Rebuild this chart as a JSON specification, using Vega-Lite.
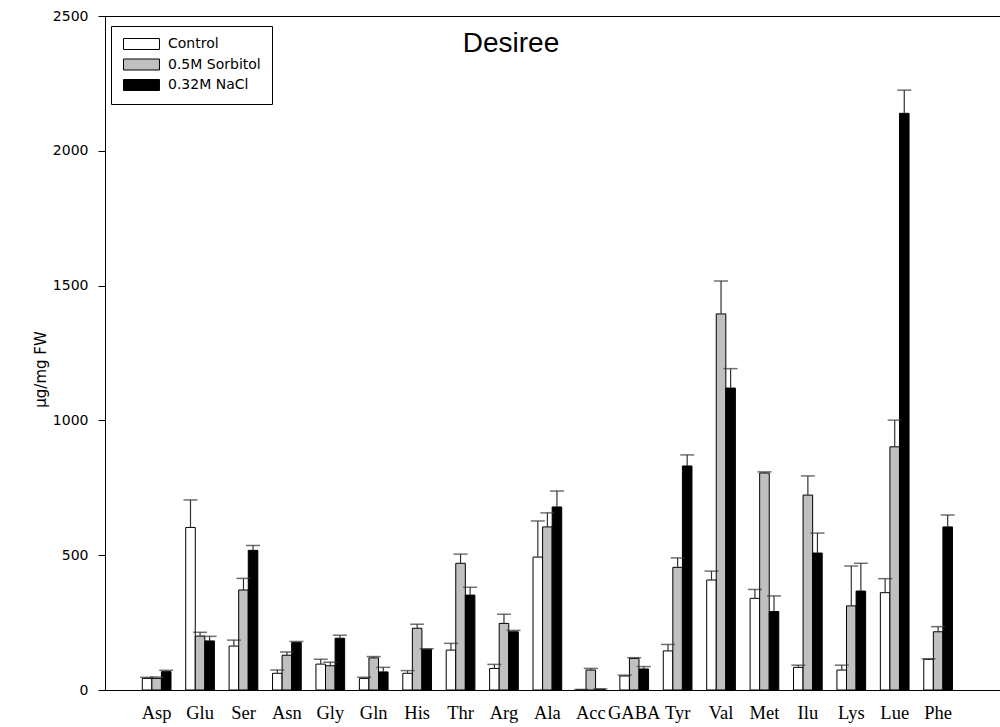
{
  "$schema": "https://vega.github.io/schema/vega-lite/v6.json",
  "autosize": "none",
  "width": 897,
  "height": 674,
  "padding": {"left": 105, "top": 16, "right": 0, "bottom": 37},
  "background": "white",
  "title": {
    "text": "Desiree",
    "font": "Liberation Sans",
    "fontSize": 28,
    "fontWeight": "normal",
    "color": "black",
    "orient": "none",
    "frame": "group",
    "anchor": "middle",
    "baseline": "alphabetic",
    "dx": 406,
    "dy": 36
  },
  "config": {
    "view": {"stroke": "black", "strokeWidth": 1},
    "axis": {
      "domainColor": "black",
      "domainWidth": 1,
      "tickColor": "black",
      "labelColor": "black",
      "titleColor": "black",
      "grid": false
    }
  },
  "data": {
    "values": [
      {"aa": "Asp", "treatment": "Control", "value": 43, "upper": 47},
      {"aa": "Asp", "treatment": "0.5M Sorbitol", "value": 43, "upper": 48},
      {"aa": "Asp", "treatment": "0.32M NaCl", "value": 68, "upper": 73},
      {"aa": "Glu", "treatment": "Control", "value": 603, "upper": 705},
      {"aa": "Glu", "treatment": "0.5M Sorbitol", "value": 200, "upper": 214},
      {"aa": "Glu", "treatment": "0.32M NaCl", "value": 182, "upper": 199},
      {"aa": "Ser", "treatment": "Control", "value": 163, "upper": 185},
      {"aa": "Ser", "treatment": "0.5M Sorbitol", "value": 371, "upper": 414},
      {"aa": "Ser", "treatment": "0.32M NaCl", "value": 518, "upper": 536},
      {"aa": "Asn", "treatment": "Control", "value": 62, "upper": 74},
      {"aa": "Asn", "treatment": "0.5M Sorbitol", "value": 129, "upper": 141},
      {"aa": "Asn", "treatment": "0.32M NaCl", "value": 176, "upper": 180},
      {"aa": "Gly", "treatment": "Control", "value": 96, "upper": 114},
      {"aa": "Gly", "treatment": "0.5M Sorbitol", "value": 90, "upper": 103},
      {"aa": "Gly", "treatment": "0.32M NaCl", "value": 192, "upper": 203},
      {"aa": "Gln", "treatment": "Control", "value": 43, "upper": 47},
      {"aa": "Gln", "treatment": "0.5M Sorbitol", "value": 119, "upper": 124},
      {"aa": "Gln", "treatment": "0.32M NaCl", "value": 67, "upper": 84},
      {"aa": "His", "treatment": "Control", "value": 62, "upper": 72},
      {"aa": "His", "treatment": "0.5M Sorbitol", "value": 229, "upper": 244},
      {"aa": "His", "treatment": "0.32M NaCl", "value": 151, "upper": 153},
      {"aa": "Thr", "treatment": "Control", "value": 148, "upper": 173},
      {"aa": "Thr", "treatment": "0.5M Sorbitol", "value": 470, "upper": 504},
      {"aa": "Thr", "treatment": "0.32M NaCl", "value": 352, "upper": 381},
      {"aa": "Arg", "treatment": "Control", "value": 80, "upper": 95},
      {"aa": "Arg", "treatment": "0.5M Sorbitol", "value": 247, "upper": 281},
      {"aa": "Arg", "treatment": "0.32M NaCl", "value": 216, "upper": 221},
      {"aa": "Ala", "treatment": "Control", "value": 493, "upper": 627},
      {"aa": "Ala", "treatment": "0.5M Sorbitol", "value": 605, "upper": 657},
      {"aa": "Ala", "treatment": "0.32M NaCl", "value": 679, "upper": 738},
      {"aa": "Acc", "treatment": "Control", "value": 1, "upper": 2},
      {"aa": "Acc", "treatment": "0.5M Sorbitol", "value": 74, "upper": 80},
      {"aa": "Acc", "treatment": "0.32M NaCl", "value": 3, "upper": 4},
      {"aa": "GABA", "treatment": "Control", "value": 52, "upper": 55},
      {"aa": "GABA", "treatment": "0.5M Sorbitol", "value": 117, "upper": 120},
      {"aa": "GABA", "treatment": "0.32M NaCl", "value": 78, "upper": 87},
      {"aa": "Tyr", "treatment": "Control", "value": 145, "upper": 169},
      {"aa": "Tyr", "treatment": "0.5M Sorbitol", "value": 455, "upper": 490},
      {"aa": "Tyr", "treatment": "0.32M NaCl", "value": 831, "upper": 872},
      {"aa": "Val", "treatment": "Control", "value": 408, "upper": 441},
      {"aa": "Val", "treatment": "0.5M Sorbitol", "value": 1395, "upper": 1517},
      {"aa": "Val", "treatment": "0.32M NaCl", "value": 1120, "upper": 1192},
      {"aa": "Met", "treatment": "Control", "value": 340, "upper": 373},
      {"aa": "Met", "treatment": "0.5M Sorbitol", "value": 805, "upper": 809},
      {"aa": "Met", "treatment": "0.32M NaCl", "value": 291, "upper": 349},
      {"aa": "Ilu", "treatment": "Control", "value": 84, "upper": 92},
      {"aa": "Ilu", "treatment": "0.5M Sorbitol", "value": 723, "upper": 794},
      {"aa": "Ilu", "treatment": "0.32M NaCl", "value": 508, "upper": 582},
      {"aa": "Lys", "treatment": "Control", "value": 74, "upper": 92},
      {"aa": "Lys", "treatment": "0.5M Sorbitol", "value": 312, "upper": 460},
      {"aa": "Lys", "treatment": "0.32M NaCl", "value": 367, "upper": 470},
      {"aa": "Lue", "treatment": "Control", "value": 361, "upper": 413},
      {"aa": "Lue", "treatment": "0.5M Sorbitol", "value": 902, "upper": 1001},
      {"aa": "Lue", "treatment": "0.32M NaCl", "value": 2139, "upper": 2225},
      {"aa": "Phe", "treatment": "Control", "value": 114, "upper": 116},
      {"aa": "Phe", "treatment": "0.5M Sorbitol", "value": 216, "upper": 235},
      {"aa": "Phe", "treatment": "0.32M NaCl", "value": 605, "upper": 649}
    ]
  },
  "encoding": {
    "x": {
      "field": "aa",
      "type": "nominal",
      "sort": null,
      "scale": {"paddingInner": 0.339, "paddingOuter": 2.775, "align": 0.4295},
      "axis": {
        "title": null,
        "labelAngle": 0,
        "ticks": false,
        "tickSize": 0,
        "labelFont": "Liberation Serif",
        "labelFontSize": 18.5,
        "labelBaseline": "alphabetic",
        "labelPadding": 28,
        "labelOverlap": false
      }
    },
    "xOffset": {
      "field": "treatment",
      "type": "nominal",
      "sort": ["Control", "0.5M Sorbitol", "0.32M NaCl"],
      "scale": {"paddingInner": 0, "paddingOuter": 0}
    }
  },
  "layer": [
    {
      "mark": {"type": "bar", "stroke": "black", "strokeWidth": 1},
      "encoding": {
        "y": {
          "field": "value",
          "type": "quantitative",
          "scale": {"domain": [0, 2500], "nice": false, "zero": true},
          "axis": {
            "title": "µg/mg FW",
            "values": [0, 500, 1000, 1500, 2000, 2500],
            "format": "d",
            "tickSize": 7,
            "labelPadding": 10,
            "labelFont": "DejaVu Sans",
            "labelFontSize": 14,
            "titleFont": "DejaVu Sans",
            "titleFontSize": 15,
            "titleFontWeight": "normal",
            "titleAngle": -90,
            "titleBaseline": "middle",
            "titleAlign": "center",
            "titleX": -65,
            "titleY": 353
          }
        },
        "fill": {
          "field": "treatment",
          "type": "nominal",
          "sort": ["Control", "0.5M Sorbitol", "0.32M NaCl"],
          "scale": {"range": ["#ffffff", "#c0c0c0", "#000000"]},
          "legend": {
            "title": null,
            "orient": "none",
            "legendX": 6,
            "legendY": 10,
            "fillColor": "white",
            "strokeColor": "black",
            "padding": 11,
            "symbolType": "M-1,-1H5.54V1H-1Z",
            "symbolSize": 121,
            "symbolStrokeColor": "black",
            "symbolStrokeWidth": 1,
            "symbolOpacity": 1,
            "labelFont": "DejaVu Sans",
            "labelFontSize": 14,
            "labelColor": "black",
            "labelOffset": 32,
            "rowPadding": 4.5
          }
        }
      }
    },
    {
      "mark": {"type": "rule", "color": "#333333", "strokeWidth": 1.2},
      "encoding": {
        "y": {"field": "value", "type": "quantitative"},
        "y2": {"field": "upper"}
      }
    },
    {
      "mark": {"type": "tick", "color": "#333333", "thickness": 1.5, "size": 14},
      "encoding": {
        "y": {"field": "upper", "type": "quantitative"}
      }
    }
  ]
}
